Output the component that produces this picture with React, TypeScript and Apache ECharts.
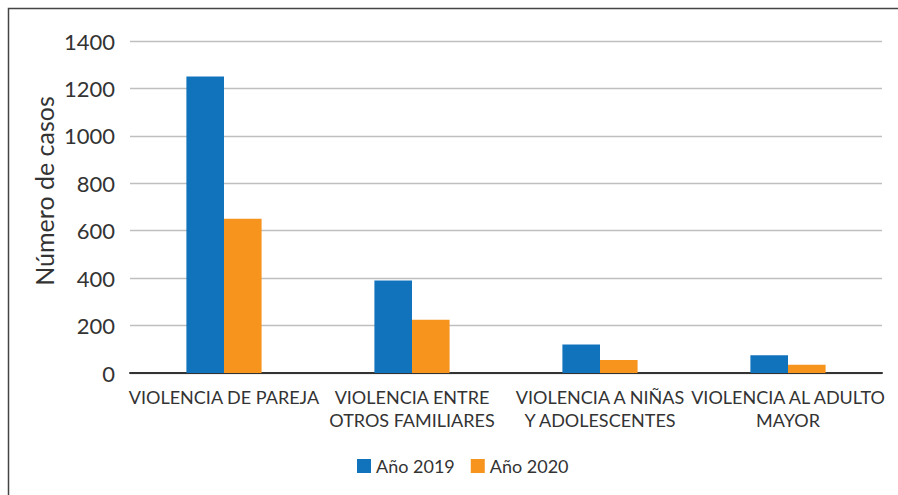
import React, { useEffect, useRef } from "react";
import * as echarts from "echarts";

const categories = [
  "VIOLENCIA DE PAREJA",
  "VIOLENCIA ENTRE\nOTROS FAMILIARES",
  "VIOLENCIA A NIÑAS\nY ADOLESCENTES",
  "VIOLENCIA AL ADULTO\nMAYOR",
];
const values2019 = [1250, 390, 120, 75];
const values2020 = [650, 225, 55, 35];
const seriesNames = ["Año 2019", "Año 2020"];
const yAxisTitle = "Número de casos";

const FONT = "Lato, 'Open Sans', sans-serif";

export default function App() {
  const ref = useRef<HTMLDivElement>(null);
  useEffect(() => {
    if (!ref.current) return;
    const chart = echarts.init(ref.current, null, { renderer: "svg" });
    chart.setOption({
      animation: false,
      backgroundColor: "#ffffff",
      textStyle: { fontFamily: FONT },
      grid: { left: 130, right: 16, top: 41, bottom: 122, containLabel: false },
      legend: {
        top: 452,
        left: 352,
        itemWidth: 14,
        itemHeight: 14,
        itemGap: 16,
        icon: "rect",
        textStyle: { fontSize: 18, color: "#333", fontFamily: FONT },
        data: seriesNames,
      },
      graphic: [
        {
          type: "rect",
          shape: { x: 8.5, y: 8.5, width: 1000, height: 1000 },
          style: { fill: "none", stroke: "#444", lineWidth: 1.5 },
          silent: true,
        },
        {
          type: "text",
          x: 44,
          y: 191,
          rotation: Math.PI / 2,
          style: {
            text: yAxisTitle,
            fontSize: 25,
            fontFamily: FONT,
            fill: "#333",
            align: "center",
            verticalAlign: "middle",
          },
        },
      ],
      xAxis: {
        type: "category",
        data: categories,
        axisLine: { show: true, lineStyle: { color: "#333", width: 2 } },
        axisTick: { show: false },
        axisLabel: {
          interval: 0,
          fontSize: 18,
          color: "#333",
          lineHeight: 23,
          margin: 12,
          fontFamily: FONT,
        },
      },
      yAxis: {
        type: "value",
        min: 0,
        max: 1400,
        interval: 200,
        axisLine: { show: false },
        axisTick: { show: false },
        splitLine: { lineStyle: { color: "#bfbfbf", width: 1.3 } },
        axisLabel: {
          fontSize: 22,
          color: "#333",
          margin: 15,
          fontFamily: FONT,
          formatter: (v: number) => String(v),
        },
      },
      series: [
        {
          name: seriesNames[0],
          type: "bar",
          data: values2019,
          barWidth: "20%",
          barGap: "0%",
          itemStyle: { color: "#1173bc" },
        },
        {
          name: seriesNames[1],
          type: "bar",
          data: values2020,
          barWidth: "20%",
          barGap: "0%",
          itemStyle: { color: "#f7941d" },
        },
      ],
    });
    return () => chart.dispose();
  }, []);
  return (
    <div
      ref={ref}
      style={{ position: "fixed", left: 0, top: 0, width: 898, height: 495 }}
    />
  );
}
